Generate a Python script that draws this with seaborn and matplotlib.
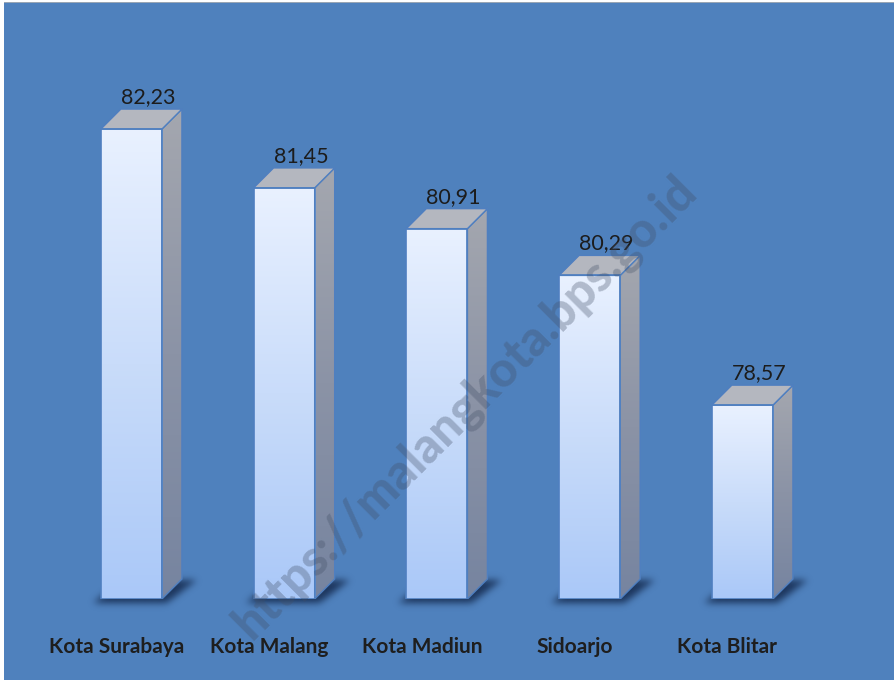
import numpy as np
import pandas as pd
import matplotlib
matplotlib.use("Agg")
import matplotlib.pyplot as plt
import seaborn as sns
from matplotlib.patches import Polygon, Rectangle
from matplotlib.colors import LinearSegmentedColormap, to_rgb
from matplotlib.path import Path

categories = ["Kota Surabaya", "Kota Malang", "Kota Madiun", "Sidoarjo", "Kota Blitar"]
values = [82.23, 81.45, 80.91, 80.29, 78.57]
value_labels = ["82,23", "81,45", "80,91", "80,29", "78,57"]
watermark = "https://malangkota.bps.go.id"

df = pd.DataFrame({"kota": categories, "nilai": values})

sns.set_theme(style="white")
plt.rcParams['font.family'] = ['Lato', 'DejaVu Sans']

W, H = 895, 680
BG = '#4F81BD'
fig = plt.figure(figsize=(W / 100, H / 100), dpi=100, facecolor='white')
fig.patches.append(Rectangle((4 / W, 0), 1, 678 / H, transform=fig.transFigure,
                             facecolor=BG, edgecolor='none', zorder=-10))
fig.patches.append(Rectangle((4 / W, 677 / H), 1, 1.5 / H, transform=fig.transFigure,
                             facecolor='#9aa6b4', edgecolor='none', zorder=-10))

ax = fig.add_axes([55 / W, 81 / H, 763.75 / W, 528 / H])
ax.set_facecolor('none')
sns.barplot(data=df, x="kota", y="nilai", ax=ax, width=0.4, color='#C8DCFA',
            edgecolor='#4F7FC0', linewidth=1.2, saturation=1)

YMIN, YMAX = 76, 83
ax.set_ylim(YMIN, YMAX)
ax.set_xlim(-0.5, 4.5)

# pixel sizes in data units
PX = 1 / 152.75
PY = 1 / 75.43
dx = 20 * PX
dy = 20 * PY

front_cmap = LinearSegmentedColormap.from_list('front', ['#AAC8F8', '#C9DCFA', '#E9F1FF'])
side_cmap = LinearSegmentedColormap.from_list('side', ['#7684A0', '#8B93A6', '#A4A7AF'])
grad = np.linspace(0, 1, 256).reshape(-1, 1)


def blur(a, sigma):
    r = int(3 * sigma)
    k = np.exp(-0.5 * (np.arange(-r, r + 1) / sigma) ** 2)
    k /= k.sum()
    a = np.apply_along_axis(lambda m: np.convolve(m, k, mode='same'), 0, a)
    a = np.apply_along_axis(lambda m: np.convolve(m, k, mode='same'), 1, a)
    return a


shadow_rgb = to_rgb('#14294d')

for i, p in enumerate(ax.patches):
    x0 = p.get_x()
    w = p.get_width()
    top = p.get_height()
    base = YMIN
    p.set_y(base)
    p.set_height(top - base)
    p.set_facecolor('none')
    p.set_zorder(5)

    # soft shadow (blurred footprint)
    sx0, sx1 = x0 - 30 * PX, x0 + w + dx + 35 * PX
    sy0, sy1 = base - 25 * PY, base + dy + 15 * PY
    nx = int(round((sx1 - sx0) / PX))
    ny = int(round((sy1 - sy0) / PY))
    gx, gy = np.meshgrid(np.linspace(sx0, sx1, nx), np.linspace(sy0, sy1, ny))
    foot = Path([(x0 - 8 * PX, base - 4 * PY), (x0 + w + 4 * PX, base - 4 * PY),
                 (x0 + w + dx + 14 * PX, base + dy - 1 * PY), (x0 + dx, base + dy - 1 * PY)])
    mask = foot.contains_points(np.c_[gx.ravel(), gy.ravel()]).reshape(ny, nx).astype(float)
    mask = blur(mask, 3.5)
    rgba = np.zeros((ny, nx, 4))
    rgba[..., :3] = shadow_rgb
    rgba[..., 3] = np.clip(mask * 0.85, 0, 1)
    ax.imshow(rgba, extent=[sx0, sx1, sy0, sy1], origin='lower', aspect='auto',
              zorder=1, clip_on=False, interpolation='bilinear')

    # side face
    side = Polygon([(x0 + w, base), (x0 + w + dx, base + dy),
                    (x0 + w + dx, top + dy), (x0 + w, top)],
                   closed=True, facecolor='none', edgecolor='#4F7FC0', linewidth=1.0, zorder=4)
    ax.add_patch(side)
    im = ax.imshow(grad, extent=[x0 + w, x0 + w + dx, base, top + dy], origin='lower',
                   aspect='auto', cmap=side_cmap, zorder=2)
    im.set_clip_path(side)

    # top face
    topf = Polygon([(x0, top), (x0 + w, top), (x0 + w + dx, top + dy), (x0 + dx, top + dy)],
                   closed=True, facecolor='#B4B7BF', edgecolor='#4F7FC0', linewidth=1.0, zorder=4)
    ax.add_patch(topf)

    # front gradient
    ax.imshow(grad, extent=[x0, x0 + w, base, top], origin='lower', aspect='auto',
              cmap=front_cmap, zorder=3)

    ax.text(x0 + w / 2 + 0.11, top + dy + 0.08, value_labels[i], ha='center', va='baseline',
            fontsize=15.5, color='#1c1c1c', zorder=6)

    ax.text(x0 + w / 2 - 15 * PX, YMIN - 48 * PY, categories[i], ha='center',
            va='center', fontsize=15, fontweight='bold', color='#1e1e1e', clip_on=False, zorder=6)

ax.set_ylim(YMIN, YMAX)
ax.set_xlim(-0.5, 4.5)
ax.set_xticks([])
ax.set_yticks([])
ax.set_xlabel('')
ax.set_ylabel('')
for s in ax.spines.values():
    s.set_visible(False)

fig.text(465 / W, 1 - 407 / H, watermark, rotation=45, ha='center', va='center',
         fontsize=35, fontweight='black', color=(0.26, 0.31, 0.40), alpha=0.33, zorder=20)

fig.savefig('out.png', dpi=100, facecolor=fig.get_facecolor())
